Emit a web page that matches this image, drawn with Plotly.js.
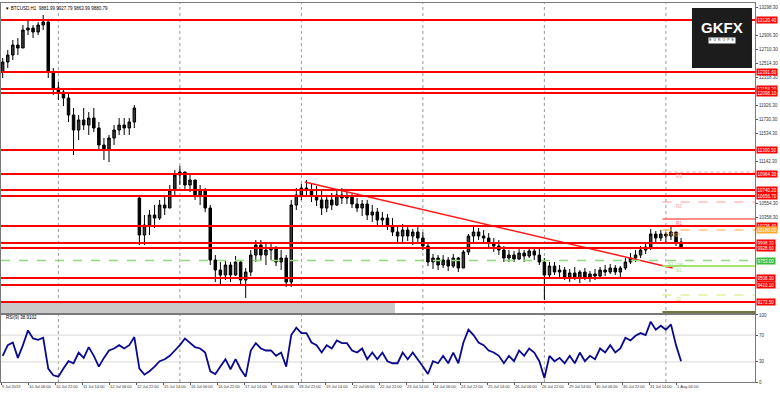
<!DOCTYPE html>
<html><head><meta charset="utf-8">
<script src="https://cdn.plot.ly/plotly-3.0.1.min.js"></script>
<style>html,body{margin:0;padding:0;background:#fff;}#chart{width:780px;height:395px;}</style>
</head><body><div id="chart"></div>
<script>
// BTCUSD, 3-hour candles (bar index 0 = 9 Jul 14:00, weekends skipped)
const opens = [12392,12532,12630,12770,12728,12980,13008,12952,13050,13092,
12392,12168,12112,12028,11790,11580,11720,11650,11748,11608,
11370,11300,11468,11580,11650,11608,11692,10628,10110,10250,
10390,10348,10530,10488,10740,10950,10992,10810,10880,10670,
10740,10488,9760,9620,9550,9690,9550,9732,9480,9592,
9830,9970,9830,9900,9928,9732,9788,9452,10530,10670,
10768,10740,10656,10600,10488,10600,10530,10670,10628,10656,
10544,10488,10544,10390,10432,10320,10348,10236,10152,10096,
10180,10096,10152,10068,9956,9732,9788,9690,9760,9676,
9788,9648,9872,10096,10152,10096,10068,9998,9956,9900,
9788,9830,9774,9858,9816,9886,9830,9732,9550,9676,
9592,9620,9522,9578,9508,9592,9522,9564,9536,9620,
9592,9648,9592,9648,9732,9788,9830,9900,9942,10124,
10068,10124,10096,10152,10012];
const highs = [12588,12700,12840,12868,13050,13120,13050,13092,13190,13120,
12448,12252,12168,12112,11888,11790,11888,11832,11888,11692,
11468,11510,11650,11748,11748,11748,11930,10670,10390,10460,
10530,10600,10670,10810,11020,11076,10992,10950,10880,10810,
10768,10530,9830,9732,9760,9732,9816,9760,9648,9900,
10040,10040,9984,9984,9956,9900,9830,10600,10768,10824,
10880,10824,10796,10740,10670,10698,10740,10768,10712,10684,
10628,10600,10600,10530,10488,10432,10404,10348,10250,10264,
10222,10194,10222,10152,9984,9844,9830,9830,9802,9844,
9802,9900,10124,10222,10208,10180,10138,10068,10040,9956,
9900,9886,9914,9900,9942,9942,9914,9788,9732,9732,
9690,9662,9634,9662,9620,9648,9606,9634,9662,9690,
9704,9690,9676,9788,9858,9900,9956,10012,10194,10166,
10180,10152,10222,10152,10068];
const lows = [12308,12448,12560,12630,12728,12910,12868,12910,12980,12308,
12070,12000,11916,11692,11230,11440,11580,11510,11552,11300,
11160,11132,11370,11510,11510,11510,11608,9970,9970,10110,
10208,10320,10390,10488,10670,10810,10740,10712,10600,10530,
10432,9690,9452,9410,9480,9452,9536,9396,9228,9536,
9732,9760,9690,9760,9676,9620,9382,9382,10460,10600,
10656,10572,10516,10390,10432,10460,10516,10544,10544,10488,
10432,10376,10320,10292,10250,10236,10180,10096,10012,10012,
10026,9970,9998,9900,9676,9634,9620,9648,9606,9648,
9592,9648,9830,10012,10040,9984,9942,9872,9830,9732,
9732,9732,9760,9732,9788,9760,9690,9200,9508,9550,
9508,9480,9452,9480,9438,9480,9452,9480,9508,9536,
9564,9550,9522,9620,9704,9732,9788,9844,9900,10012,
10026,10012,10040,9956,9914];
const closes = [12532,12630,12770,12728,12980,13008,12952,13050,13092,12392,
12168,12112,12028,11790,11580,11720,11650,11748,11608,11370,
11300,11468,11580,11650,11608,11692,11888,10110,10250,10390,
10348,10530,10488,10740,10950,10992,10810,10880,10670,10740,
10488,9760,9620,9550,9690,9550,9732,9480,9592,9830,
9970,9830,9900,9928,9732,9788,9452,10530,10670,10768,
10740,10656,10600,10488,10600,10530,10670,10628,10656,10544,
10488,10544,10390,10432,10320,10348,10236,10152,10096,10180,
10096,10152,10068,9956,9732,9788,9690,9760,9676,9788,
9648,9872,10096,10152,10096,10068,9998,9956,9900,9788,
9830,9774,9858,9816,9886,9830,9732,9550,9676,9592,
9620,9522,9578,9508,9592,9522,9564,9536,9620,9592,
9648,9592,9648,9732,9788,9830,9900,9942,10124,10068,
10124,10096,10152,10012,9942];
const rsiValues = [39,55,59,36,55,77,65,63,66,20,
10,8,20,31,28,44,36,52,39,23,
36,47,50,55,50,55,67,20,11,16,
23,31,34,39,47,55,65,59,52,50,
44,16,12,23,34,19,34,19,8,47,
58,50,47,47,39,44,23,70,81,73,
73,59,55,44,55,50,62,58,58,47,
44,50,34,44,34,44,31,28,28,44,
34,44,34,23,12,31,28,39,28,44,
28,59,78,70,59,55,47,44,39,28,
39,31,47,39,50,44,31,6,39,31,
36,28,39,28,44,31,39,34,50,44,
55,44,50,66,62,69,73,70,90,78,
84,78,86,55,31];
const barsPerCandle = 3;

const timeLabels = ["9 Jul 2019","10 Jul 06:00","10 Jul 22:00","11 Jul 14:00","12 Jul 06:00","12 Jul 22:00",
"15 Jul 14:00","16 Jul 06:00","16 Jul 22:00","17 Jul 14:00","18 Jul 06:00","18 Jul 22:00","19 Jul 14:00",
"22 Jul 06:00","22 Jul 22:00","23 Jul 14:00","24 Jul 06:00","24 Jul 22:00","25 Jul 14:00","26 Jul 06:00",
"26 Jul 22:00","29 Jul 14:00","30 Jul 06:00","30 Jul 22:00","31 Jul 14:00","1 Aug 06:00"];
const barsPerLabel = 16;
const gridBars = [34,106,178,250,322,394];

// price-scale labels that are not hidden behind the level tags
const priceTicks = [13298.3,12906.3,12710.3,12514.3,12318.3,11926.3,11730.3,11534.3,11142.3,10554.3,10358.3];
const rsiTicks = [0,30,70,100];

// support / resistance levels (red lines)
const levels = [13120.4,12391.6,12154.2,12098.1,11300.5,10964.3,10740.2,10656.7,10236.4,9998.2,9928.6,9508.3,9410.1,9172.5];

// pivot-style levels on the right
const pivotNames = ["R3","R2","R1","Yr High","S1 Low","S1","S2",""];
const pivotPrices = [10992,10572,10334,10180,9753,9676,9270,9032];
const pivotColors = ["#ff9c9c","#ff9c9c","#ff6a6a","#ffa834","#8fdc7a","#a6e36a","#d6ea6a","#6b7a3a"];
const pivotDash = ["dot","dash","solid","dash","dash","solid","dash","solid"];
const pivotWidth = [1,1,1.5,1,1.5,2,1,2];
const pivotStart = [392,392,392,392,0,392,392,392];

const trendX = [180,398];
const trendY = [10852,9648];

const header = "\u25BC BTCUSD,H1  9881.99 9927.79 9863.99 9880.79";
const rsiTitle = "RSI(9) 38.9102";

const candleX = opens.map((_, i) => i * barsPerCandle + 1);
const FONT = "Liberation Sans, Arial, sans-serif";
const XR = [0, 446.8];

const traces = [
  {type:"candlestick", x:candleX, open:opens, high:highs, low:lows, close:closes,
   xaxis:"x2", yaxis:"y", whiskerwidth:0,
   increasing:{line:{color:"#000", width:1}, fillcolor:"#3a3a3a"},
   decreasing:{line:{color:"#000", width:1}, fillcolor:"#000000"},
   hoverinfo:"skip", showlegend:false},
  {type:"scatter", mode:"lines", x:trendX, y:trendY, xaxis:"x2", yaxis:"y",
   line:{color:"#ff1a1a", width:1.5}, showlegend:false, hoverinfo:"skip"},
  {type:"scatter", mode:"lines", x:candleX, y:rsiValues, xaxis:"x", yaxis:"y2",
   line:{color:"#0a0a8c", width:1.8}, showlegend:false, hoverinfo:"skip"}
];

const shapes = [];
gridBars.forEach(b => shapes.push({type:"line", xref:"x", yref:"paper", x0:b, x1:b, y0:0, y1:1,
  layer:"below", line:{color:"#9a9a9a", width:1, dash:"dot"}}));
[30,70].forEach(v => shapes.push({type:"line", xref:"paper", yref:"y2", x0:0, x1:1, y0:v, y1:v,
  layer:"below", line:{color:"#d8d8d8", width:1}}));
// grey strip at the bottom of the price panel
shapes.push({type:"rect", xref:"x2", yref:"paper", x0:0, x1:233.5, y0:0.182, y1:0.2084,
  fillcolor:"#c9c9c9", line:{width:0}, layer:"below"});
pivotPrices.forEach((p, i) => shapes.push({type:"line", xref:"x2", yref:"y", x0:pivotStart[i], x1:XR[1], y0:p, y1:p,
  line:{color:pivotColors[i], width:pivotWidth[i], dash:pivotDash[i]}}));
levels.forEach(l => shapes.push({type:"line", xref:"paper", yref:"y", x0:0, x1:1, y0:l, y1:l,
  line:{color:"#ff0000", width:2}}));
// logo box
shapes.push({type:"rect", xref:"paper", yref:"paper", x0:0.9164, x1:0.996, y0:0.8285, y1:0.9868,
  fillcolor:"#1c1c1c", line:{width:0}});

const annotations = [];
const tag = (y, color) => ({xref:"paper", x:1, xanchor:"left", xshift:1, yref:"y", y:y,
  text:y.toFixed(2), showarrow:false, font:{family:FONT, size:4.5, color:"#fff"}, bgcolor:color, borderpad:0.6});
levels.forEach(l => annotations.push(tag(l, "#ff0000")));
annotations.push(tag(pivotPrices[3], "#ffa834"));
annotations.push(tag(pivotPrices[4], "#3cbc3c"));
const pivotLabelX = [402,402,402,398,400,402,402];
pivotNames.forEach((n, i) => { if (n) annotations.push({xref:"x2", x:pivotLabelX[i], yref:"y", y:pivotPrices[i],
  yshift:-4, text:n, showarrow:false, font:{family:FONT, size:4.5, color:pivotColors[i]}}); });
annotations.push({xref:"paper", x:0.003, xanchor:"left", yref:"paper", y:1, yanchor:"top", yshift:-0.5,
  text:header, showarrow:false, font:{family:FONT, size:4.5, color:"#000"}});
annotations.push({xref:"paper", x:0.004, xanchor:"left", yref:"paper", y:0.1689, yanchor:"middle",
  text:rsiTitle, showarrow:false, font:{family:FONT, size:4.5, color:"#000"}});
annotations.push({xref:"paper", x:0.9562, xanchor:"center", yref:"paper", y:0.9345, yanchor:"middle",
  text:"<b>GKFX</b>", showarrow:false, font:{family:"Liberation Sans, Arial, sans-serif", size:15, color:"#fff"}});
annotations.push({xref:"paper", x:0.9562, xanchor:"center", yref:"paper", y:0.9003, yanchor:"middle",
  text:"E  U  R  O  P  E", showarrow:false, bgcolor:"#ffffff", borderpad:0.3,
  font:{family:FONT, size:3.5, color:"#1c1c1c"}});

const axisCommon = {showgrid:false, zeroline:false, showline:true, mirror:true, linecolor:"#7a7a7a", linewidth:1,
  ticks:"outside", ticklen:2, tickcolor:"#555", tickfont:{family:FONT, size:4.5, color:"#333"}, fixedrange:true};

const layout = {
  width:780, height:395, margin:{l:1, r:25, t:3, b:13},
  paper_bgcolor:"#ffffff", plot_bgcolor:"#ffffff", showlegend:false,
  xaxis: Object.assign({}, axisCommon, {domain:[0,1], anchor:"y2", range:XR,
    tickvals:timeLabels.map((_, i) => i * barsPerLabel), ticktext:timeLabels, tickangle:0,
    tickfont:{family:FONT, size:4, color:"#333"},
    ticklabelposition:"outside right", rangeslider:{visible:false}}),
  xaxis2: Object.assign({}, axisCommon, {domain:[0,1], anchor:"y", range:XR, showticklabels:false, ticks:"",
    rangeslider:{visible:false}}),
  yaxis: Object.assign({}, axisCommon, {domain:[0.182,1], anchor:"x2", side:"right", range:[9018,13358],
    tickvals:priceTicks, ticktext:priceTicks.map(v => v.toFixed(2))}),
  yaxis2: Object.assign({}, axisCommon, {domain:[0,0.1768], anchor:"x", side:"right", range:[0,100],
    tickvals:rsiTicks, ticktext:rsiTicks.map(String)}),
  shapes:shapes, annotations:annotations
};

Plotly.newPlot("chart", traces, layout, {displayModeBar:false, staticPlot:true});
</script></body></html>
